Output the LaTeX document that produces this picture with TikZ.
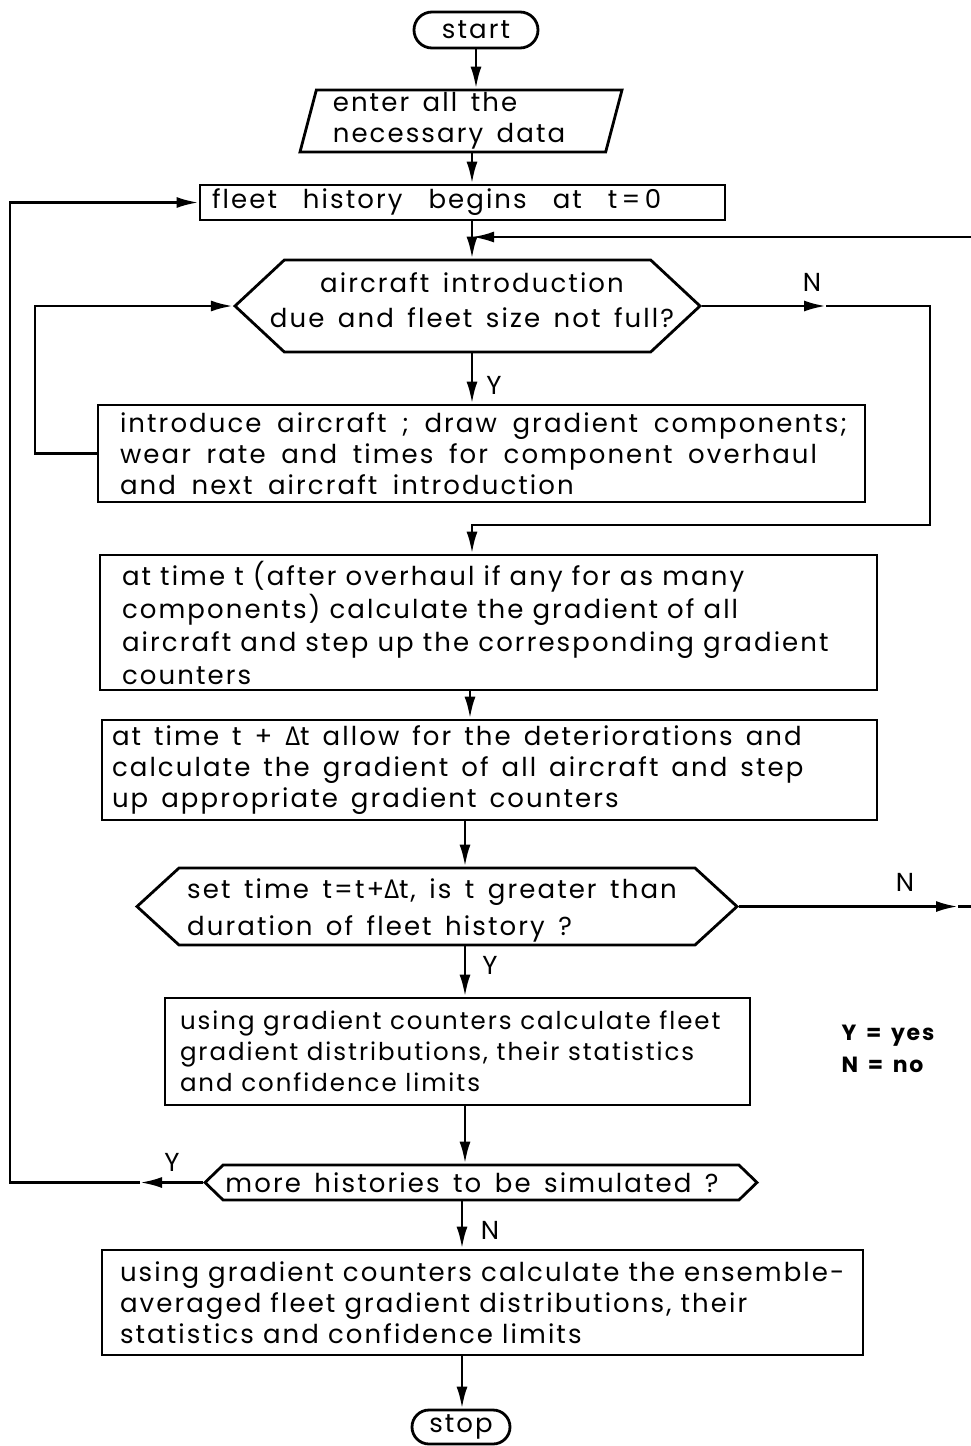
\documentclass[tikz,border=0pt]{standalone}
\usepackage{fontspec}
\setmainfont[LetterSpace=8,WordSpace=1.5]{Poppins}
\newfontfamily\grk{Open Sans}
\usetikzlibrary{arrows.meta,shapes.misc,shapes.symbols,shapes.geometric}
\newcommand{\Dt}{{\grk Δ}t}
\newcommand{\wsp}[1]{\spaceskip=#1em plus 0.1em\relax}
\begin{document}
\begin{tikzpicture}[x=1pt,y=-1pt, line width=2.8pt,
  font=\fontsize{26}{31}\selectfont,
  arr/.style={-{Latex[length=22pt,width=11pt]}},
  term/.style={draw, rounded rectangle, inner sep=0pt},
  procbox/.style={draw, rectangle, align=left, inner ysep=0pt},
  decision/.style={draw, signal, signal to=east and west, inner sep=0pt},
  lbl/.style={inner sep=0pt}
 ]
\useasboundingbox (0,0) rectangle (970,1446);
% spine coordinates
\coordinate (spA) at (472,0);
\coordinate (spB) at (470,0);
\coordinate (spC) at (465,0);
\coordinate (spD) at (462,0);
\coordinate (lx) at (35,0);
\coordinate (rx) at (10,0);

\node[term, minimum width=124, minimum height=36] (start) at (476,30) {start};
\node[draw, trapezium, trapezium left angle=74, trapezium right angle=106,
      trapezium stretches body, minimum width=322, minimum height=62, inner sep=0pt, align=left] (data) at (461,121)
      {enter all the\\necessary data\hspace*{24pt}};
\node[procbox, inner xsep=12, text width=501, minimum height=35] (fleet) at (462.5,202.5)
      {\wsp{1.0}fleet history begins at t\,=\,0};
\node[decision, minimum width=465, minimum height=92, signal pointer angle=86] (d1) at (467.5,306) {};
\node[align=center, inner sep=0pt, font=\fontsize{26}{35}\selectfont] (d1t) at (472,300)
      {aircraft introduction\\due and fleet size not full?};
\node[procbox, inner xsep=22, text width=723, minimum height=97] (box2) at (481.5,453.5)
      {\wsp{0.6}introduce aircraft ; draw gradient components;\\wear rate and times for component overhaul\\and next aircraft introduction};
\node[procbox, inner xsep=22, text width=733, minimum height=135, font=\fontsize{26}{33}\selectfont] (box3) at (488.5,622.5)
      {\wsp{0.35}at time t (after overhaul if any for as many\\components) calculate the gradient of all\\aircraft and step up the corresponding gradient\\counters};
\node[procbox, inner xsep=10, text width=755, minimum height=100] (box4) at (489.5,770)
      {\wsp{0.5}at time t + \Dt\ allow for the deteriorations and\\calculate the gradient of all aircraft and step\\up appropriate gradient counters};
\node[decision, minimum width=600, minimum height=77, signal pointer angle=85] (d2) at (437,906.5) {};
\node[align=left, inner sep=0pt, font=\fontsize{26}{37}\selectfont] (d2t) at (432,910.5)
      {set time t=t+\Dt, is t greater than\\duration of fleet history ?};
\node[procbox, inner xsep=15, text width=555, minimum height=107, font=\fontsize{24.5}{31}\selectfont] (box5) at (457.5,1051.5)
      {\wsp{0.35}using gradient counters calculate fleet\\gradient distributions, their statistics\\and confidence limits};
\node[decision, minimum width=552, minimum height=35, signal pointer angle=88] (d3) at (481,1182.5) {};
\node[inner sep=0pt] (d3t) at (472,1182.5) {more histories to be simulated ?};
\node[procbox, inner xsep=18, text width=725, minimum height=105] (box6) at (482.5,1302.5)
      {\wsp{0.35}using gradient counters calculate the ensemble-\\averaged fleet gradient distributions, their\\statistics and confidence limits};
\node[term, minimum width=98, minimum height=34] (stop) at (461,1427) {stop};

% labels
\node[lbl] (yl1) at (494,385) {Y};
\node[lbl] (nl1) at (812,282) {N};
\node[lbl] (nl2) at (905,882) {N};
\node[lbl] (yl2) at (490,965) {Y};
\node[lbl] (yl3) at (172,1162) {Y};
\node[lbl] (nl3) at (490,1230) {N};
\node[lbl, align=left, font=\fontsize{22}{32}\selectfont\bfseries] (legend) at (888,1049) {Y = yes\\N = no};

% coordinates for bends
\coordinate (j1) at (472,237);
\coordinate (nA) at (826,306);
\coordinate (nB) at (958,906.5);
\coordinate (yA) at (140,1182.5);

% connectors
\draw[arr] (start.south) -- (start.south |- data.north);
\draw[arr] (data.south -| spA) -- (fleet.north -| spA);
\draw (fleet.south -| spA) -- (j1);
\draw[arr] (j1) -- (d1.north -| spA);
\draw[arr] (d1.east) -- (nA);
\draw[arr] (nA) -- (930,306) -- (930,525) -- (472,525) -- (box3.north -| spA);
\draw[arr] (d1.south -| spA) -- (box2.north -| spA);
\draw[arr] (box2.west) -- (box2.west -| lx) -- (d1.west -| lx) -- (d1.west);
\draw[arr] (box3.south -| spB) -- (box4.north -| spB);
\draw[arr] (box4.south -| spC) -- (d2.north -| spC);
\draw[arr] (d2.east) -- (nB);
\draw[arr] (nB) -- (990,906.5) -- (990,237) -- (j1);
\draw[arr] (d2.south -| spC) -- (box5.north -| spC);
\draw[arr] (box5.south -| spC) -- (d3.north -| spC);
\draw[arr] (d3.west) -- (yA);
\draw[arr] (yA) -- (d3.west -| rx) -- (fleet.west -| rx) -- (fleet.west);
\draw[arr] (d3.south -| spD) -- (box6.north -| spD);
\draw[arr] (box6.south -| spD) -- (stop.north -| spD);
\end{tikzpicture}
\end{document}
